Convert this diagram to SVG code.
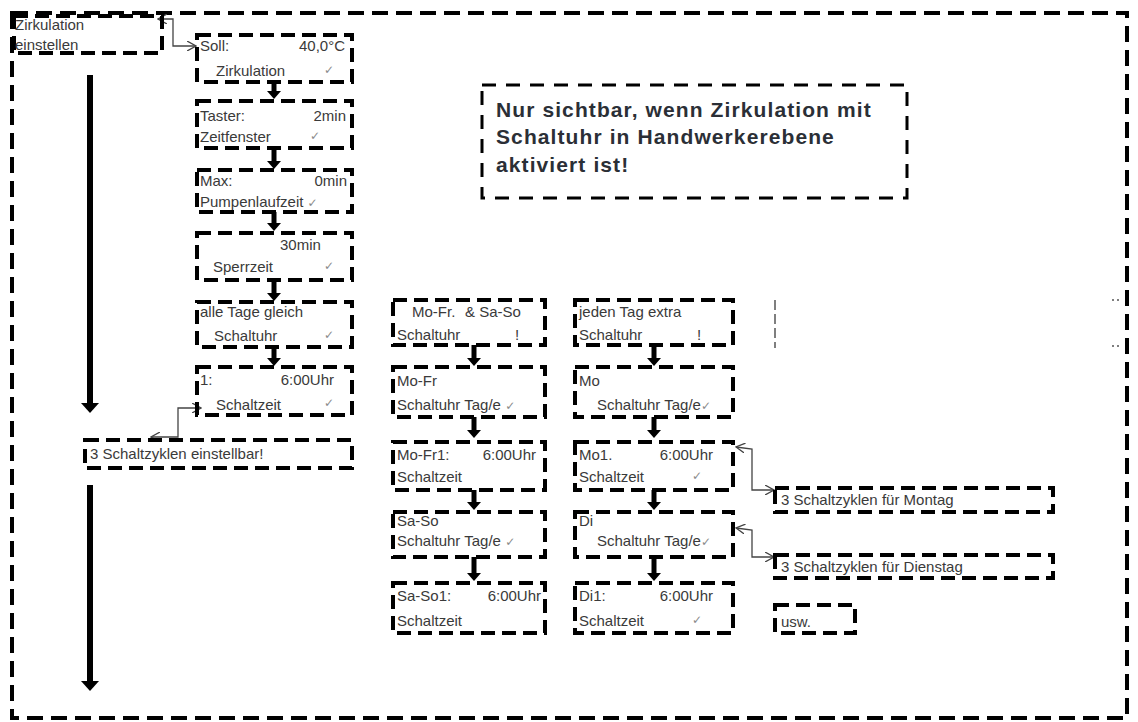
<svg xmlns="http://www.w3.org/2000/svg" width="1138" height="722" viewBox="0 0 1138 722">
<style>
.frame{fill:none;stroke:#000;stroke-width:4;stroke-dasharray:16 8}
.box{fill:none;stroke:#000;stroke-width:4;stroke-dasharray:14 7}
.note{fill:none;stroke:#000;stroke-width:3;stroke-dasharray:14 10}
.t{font-family:"Liberation Sans",Arial,sans-serif;font-size:15px;fill:#3a3a3a}
.r{text-anchor:end}
.ck{font-family:"DejaVu Sans",sans-serif;font-size:12px;fill:#8a8a8a}
.nt{font-family:"Liberation Sans",Arial,sans-serif;font-size:21px;font-weight:bold;fill:#2b2f36;letter-spacing:1.1px}
.big{stroke:#000;stroke-width:6;fill:none}
.sm{stroke:#000;stroke-width:5;fill:none}
.thin{stroke:#444;stroke-width:1.3;fill:none}
</style>
<defs>
<marker id="bigHead" viewBox="0 0 10 18" markerWidth="10" markerHeight="18" refX="1" refY="9" orient="auto" markerUnits="userSpaceOnUse"><path d="M0,0 L10,9 L0,18 z" fill="#000"/></marker>
<marker id="smHead" viewBox="0 0 8 14" markerWidth="8" markerHeight="14" refX="1" refY="7" orient="auto" markerUnits="userSpaceOnUse"><path d="M0,0 L8,7 L0,14 z" fill="#000"/></marker>
<marker id="open" viewBox="0 0 10 10" markerWidth="10" markerHeight="10" refX="9" refY="5" orient="auto-start-reverse" markerUnits="userSpaceOnUse"><path d="M0,0 L9,5 L0,10" fill="none" stroke="#444" stroke-width="1.3"/></marker>
</defs>
<rect width="1138" height="722" fill="#fff"/>
<rect class="frame" x="12" y="13" width="1115" height="705"/>
<g id="artifacts">
<line x1="775" y1="300" x2="775" y2="348" stroke="#555" stroke-width="1.5" stroke-dasharray="10 4"/>
<line x1="1112" y1="300" x2="1122" y2="300" stroke="#555" stroke-width="1.5" stroke-dasharray="2 3"/>
<line x1="1112" y1="346" x2="1122" y2="346" stroke="#555" stroke-width="1.5" stroke-dasharray="2 3"/>
</g>
<g id="connectors">
<line class="big" x1="90" y1="75" x2="90" y2="404" marker-end="url(#bigHead)"/>
<line class="big" x1="90" y1="485" x2="90" y2="682" marker-end="url(#bigHead)"/>
<line class="sm" x1="274" y1="82" x2="274" y2="92" marker-end="url(#smHead)"/>
<line class="sm" x1="274" y1="148" x2="274" y2="162" marker-end="url(#smHead)"/>
<line class="sm" x1="274" y1="212" x2="274" y2="224" marker-end="url(#smHead)"/>
<line class="sm" x1="274" y1="280" x2="274" y2="294" marker-end="url(#smHead)"/>
<line class="sm" x1="274" y1="347" x2="274" y2="359" marker-end="url(#smHead)"/>
<line class="sm" x1="474" y1="345" x2="474" y2="359" marker-end="url(#smHead)"/>
<line class="sm" x1="474" y1="417" x2="474" y2="431" marker-end="url(#smHead)"/>
<line class="sm" x1="474" y1="490" x2="474" y2="503" marker-end="url(#smHead)"/>
<line class="sm" x1="474" y1="557" x2="474" y2="574" marker-end="url(#smHead)"/>
<line class="sm" x1="654" y1="345" x2="654" y2="359" marker-end="url(#smHead)"/>
<line class="sm" x1="654" y1="417" x2="654" y2="431" marker-end="url(#smHead)"/>
<line class="sm" x1="654" y1="490" x2="654" y2="503" marker-end="url(#smHead)"/>
<line class="sm" x1="654" y1="557" x2="654" y2="574" marker-end="url(#smHead)"/>
<path class="thin" d="M158,19 L173,19 L173,46 L196,46" marker-start="url(#open)" marker-end="url(#open)"/>
<path class="thin" d="M151,437 L178,437 L178,408 L201,408" marker-start="url(#open)" marker-end="url(#open)"/>
<path class="thin" d="M736,447 L752,449 L752,490 L774,490" marker-start="url(#open)" marker-end="url(#open)"/>
<path class="thin" d="M736,528 L752,530 L752,557 L774,557" marker-start="url(#open)" marker-end="url(#open)"/>
</g>
<g id="n-zirk">
<rect class="box" x="14" y="16" width="148" height="37"/>
<text class="t" x="15" y="30">Zirkulation</text>
<text class="t" x="15" y="50">einstellen</text>
</g>
<g id="n-soll">
<rect class="box" x="197" y="35" width="155" height="47"/>
<text class="t" x="200" y="51">Soll:</text>
<text class="t r" x="345" y="51">40,0°C</text>
<text class="t" x="216" y="76">Zirkulation</text>
<text class="ck" x="324" y="74">✓</text>
</g>
<g id="n-taster">
<rect class="box" x="197" y="101" width="155" height="47"/>
<text class="t" x="200" y="121">Taster:</text>
<text class="t r" x="346" y="121">2min</text>
<text class="t" x="200" y="142">Zeitfenster</text>
<text class="ck" x="310" y="140">✓</text>
</g>
<g id="n-max">
<rect class="box" x="197" y="170" width="155" height="42"/>
<text class="t" x="200" y="186">Max:</text>
<text class="t r" x="347" y="186">0min</text>
<text class="t" x="200" y="207">Pumpenlaufzeit <tspan class="ck">✓</tspan></text>
</g>
<g id="n-sperr">
<rect class="box" x="197" y="233" width="155" height="47"/>
<text class="t" x="280" y="250">30min</text>
<text class="t" x="213" y="272">Sperrzeit</text>
<text class="ck" x="324" y="270">✓</text>
</g>
<g id="n-alle">
<rect class="box" x="197" y="302" width="155" height="45"/>
<text class="t" x="200" y="317">alle Tage gleich</text>
<text class="t" x="214" y="341">Schaltuhr</text>
<text class="ck" x="324" y="339">✓</text>
</g>
<g id="n-eins">
<rect class="box" x="197" y="367" width="155" height="48"/>
<text class="t" x="200" y="385">1:</text>
<text class="t r" x="334" y="385">6:00Uhr</text>
<text class="t" x="216" y="410">Schaltzeit</text>
<text class="ck" x="324" y="407">✓</text>
</g>
<g id="n-drei">
<rect class="box" x="85" y="440" width="267" height="28"/>
<text class="t" x="90" y="459">3 Schaltzyklen einstellbar!</text>
</g>
<g id="n-note">
<rect class="note" x="482" y="85" width="425" height="113"/>
<text class="nt" x="496" y="117">Nur sichtbar, wenn Zirkulation mit</text>
<text class="nt" x="496" y="144">Schaltuhr in Handwerkerebene</text>
<text class="nt" x="496" y="172">aktiviert ist!</text>
</g>
<g id="n-mofrsaso">
<rect class="box" x="393" y="300" width="152" height="45"/>
<text class="t" x="412" y="317">Mo-Fr.<tspan x="465">&amp; Sa-So</tspan></text>
<text class="t" x="397" y="340">Schaltuhr</text>
<text class="t" x="515" y="340">!</text>
</g>
<g id="n-mofr">
<rect class="box" x="393" y="367" width="152" height="50"/>
<text class="t" x="397" y="386">Mo-Fr</text>
<text class="t" x="397" y="410">Schaltuhr Tag/e <tspan class="ck">✓</tspan></text>
</g>
<g id="n-mofr1">
<rect class="box" x="393" y="442" width="152" height="48"/>
<text class="t" x="397" y="460">Mo-Fr1:</text>
<text class="t r" x="536" y="460">6:00Uhr</text>
<text class="t" x="397" y="482">Schaltzeit</text>
</g>
<g id="n-saso">
<rect class="box" x="393" y="512" width="152" height="45"/>
<text class="t" x="397" y="526">Sa-So</text>
<text class="t" x="397" y="546">Schaltuhr Tag/e <tspan class="ck">✓</tspan></text>
</g>
<g id="n-saso1">
<rect class="box" x="393" y="583" width="152" height="50"/>
<text class="t" x="397" y="601">Sa-So1:</text>
<text class="t r" x="541" y="601">6:00Uhr</text>
<text class="t" x="397" y="626">Schaltzeit</text>
</g>
<g id="n-jeden">
<rect class="box" x="575" y="300" width="158" height="45"/>
<text class="t" x="579" y="317">jeden Tag extra</text>
<text class="t" x="579" y="340">Schaltuhr</text>
<text class="t" x="697" y="340">!</text>
</g>
<g id="n-mo">
<rect class="box" x="575" y="367" width="158" height="50"/>
<text class="t" x="579" y="386">Mo</text>
<text class="t" x="597" y="410">Schaltuhr Tag/e<tspan class="ck">✓</tspan></text>
</g>
<g id="n-mo1">
<rect class="box" x="575" y="442" width="158" height="48"/>
<text class="t" x="579" y="460">Mo1.</text>
<text class="t r" x="713" y="460">6:00Uhr</text>
<text class="t" x="579" y="482">Schaltzeit</text>
<text class="ck" x="692" y="480">✓</text>
</g>
<g id="n-di">
<rect class="box" x="575" y="512" width="158" height="45"/>
<text class="t" x="579" y="526">Di</text>
<text class="t" x="597" y="546">Schaltuhr Tag/e<tspan class="ck">✓</tspan></text>
</g>
<g id="n-di1">
<rect class="box" x="575" y="583" width="158" height="50"/>
<text class="t" x="579" y="601">Di1:</text>
<text class="t r" x="713" y="601">6:00Uhr</text>
<text class="t" x="579" y="626">Schaltzeit</text>
<text class="ck" x="692" y="624">✓</text>
</g>
<g id="n-montag">
<rect class="box" x="775" y="488" width="278" height="24"/>
<text class="t" x="781" y="505">3 Schaltzyklen für Montag</text>
</g>
<g id="n-dienstag">
<rect class="box" x="775" y="555" width="278" height="23"/>
<text class="t" x="781" y="572">3 Schaltzyklen für Dienstag</text>
</g>
<g id="n-usw">
<rect class="box" x="775" y="605" width="80" height="28"/>
<text class="t" x="781" y="627">usw.</text>
</g>
</svg>
